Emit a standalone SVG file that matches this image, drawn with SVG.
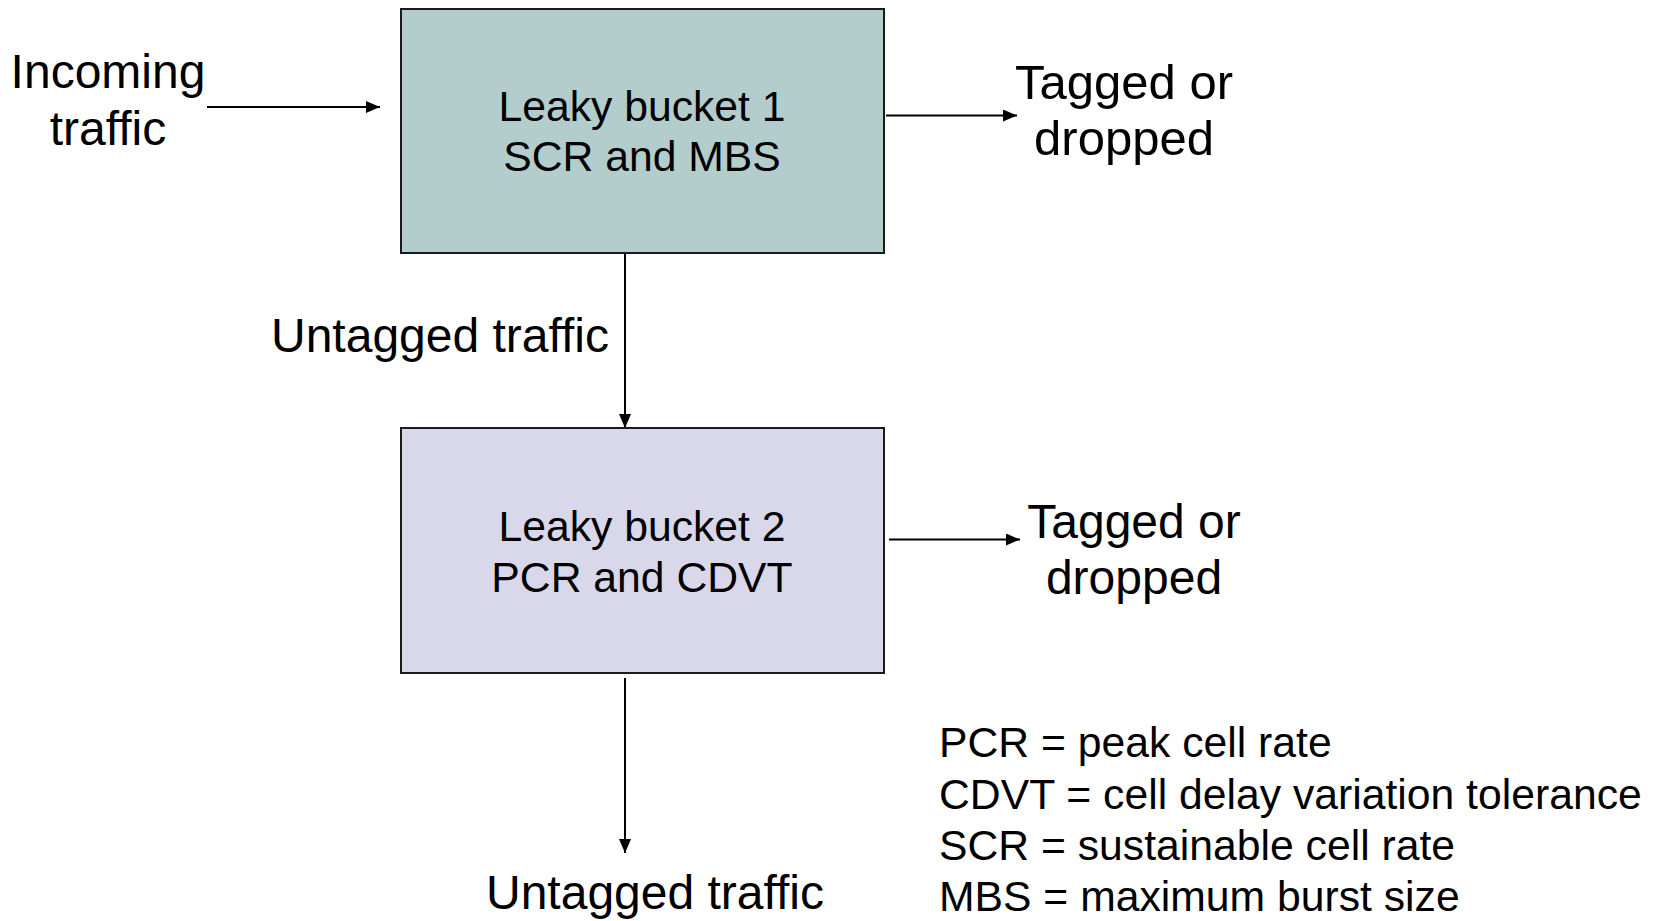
<svg xmlns="http://www.w3.org/2000/svg" width="1662" height="921" viewBox="0 0 1662 921">
<style>
text{font-family:"Liberation Sans",Arial,sans-serif;fill:#000}
.lbl{font-size:48px}
.box{font-size:42.7px}
.leg{font-size:42.7px}
.edge{stroke:#000;stroke-width:2;fill:none}
.b1{fill:#b2cdcc;stroke:#1a1a1a;stroke-width:2}
.b2{fill:#d8d8ea;stroke:#1a1a1a;stroke-width:2}
</style>
<defs>
<marker id="ah" viewBox="0 0 14 12" refX="14" refY="6" markerWidth="14" markerHeight="12" markerUnits="userSpaceOnUse" orient="auto">
<path d="M0,0 L14,6 L0,12 z" fill="#000"/>
</marker>
</defs>
<g id="connectors">
<line class="edge" x1="207" y1="107" x2="380" y2="107" marker-end="url(#ah)"/>
<line class="edge" x1="886" y1="115.5" x2="1017" y2="115.5" marker-end="url(#ah)"/>
<line class="edge" x1="625" y1="254" x2="625" y2="428" marker-end="url(#ah)"/>
<line class="edge" x1="889" y1="539.5" x2="1020" y2="539.5" marker-end="url(#ah)"/>
<line class="edge" x1="625" y1="678" x2="625" y2="853" marker-end="url(#ah)"/>
</g>
<g id="incoming">
<text class="lbl" x="108" y="88" text-anchor="middle">Incoming</text>
<text class="lbl" x="108" y="145" text-anchor="middle">traffic</text>
</g>
<g id="bucket1">
<rect class="b1" x="401" y="9" width="483" height="244"/>
<text class="box" x="642" y="121" text-anchor="middle">Leaky bucket 1</text>
<text class="box" x="642" y="171" text-anchor="middle">SCR and MBS</text>
</g>
<g id="tagged1">
<text class="lbl" x="1124" y="99" text-anchor="middle" style="font-size:49px">Tagged or</text>
<text class="lbl" x="1124" y="155" text-anchor="middle" style="font-size:49px">dropped</text>
</g>
<g id="untagged1">
<text class="lbl" x="609" y="352" text-anchor="end">Untagged traffic</text>
</g>
<g id="bucket2">
<rect class="b2" x="401" y="428" width="483" height="245"/>
<text class="box" x="642" y="541" text-anchor="middle">Leaky bucket 2</text>
<text class="box" x="642" y="592" text-anchor="middle">PCR and CDVT</text>
</g>
<g id="tagged2">
<text class="lbl" x="1134" y="538" text-anchor="middle">Tagged or</text>
<text class="lbl" x="1134" y="594" text-anchor="middle">dropped</text>
</g>
<g id="untagged2">
<text class="lbl" x="655" y="909" text-anchor="middle">Untagged traffic</text>
</g>
<g id="legend">
<text class="leg" x="939" y="757">PCR = peak cell rate</text>
<text class="leg" x="939" y="809">CDVT = cell delay variation tolerance</text>
<text class="leg" x="939" y="860">SCR = sustainable cell rate</text>
<text class="leg" x="939" y="911">MBS = maximum burst size</text>
</g>
</svg>
